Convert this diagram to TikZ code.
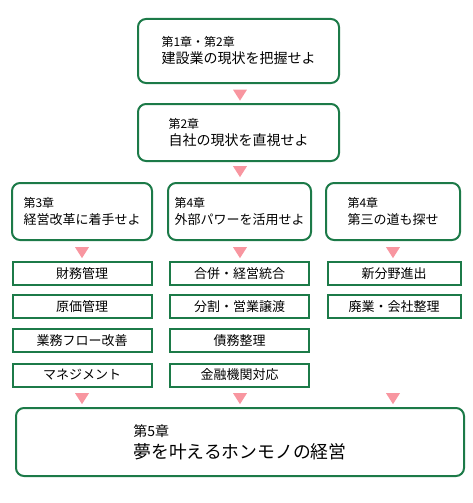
\documentclass[tikz,border=0pt]{standalone}
\usepackage{fontspec}
\setmainfont{Noto Sans CJK JP}
\usepackage{tikz}
\usetikzlibrary{shapes.geometric, positioning}
\definecolor{boxgreen}{RGB}{28,122,72}
\definecolor{markpink}{RGB}{248,150,160}
\newcommand{\chapno}[1]{{\fontsize{12}{14}\selectfont #1}}
\tikzstyle{chapter} = [rectangle, rounded corners=8pt,
draw=boxgreen,
line width=2pt,
inner sep=0pt,
align=left,
font=\fontsize{13}{17}\selectfont]
\tikzstyle{item} = [rectangle,
draw=boxgreen,
line width=2pt,
minimum height=23pt,
inner sep=0pt,
font=\fontsize{13}{15}\selectfont]
\tikzstyle{marker} = [isosceles triangle,
isosceles triangle stretches,
shape border rotate=-90,
fill=markpink,
minimum width=14pt,
minimum height=11pt,
inner sep=0pt]

\begin{document}
\begin{tikzpicture}[x=1pt, y=-1pt]
        \useasboundingbox (0,0) rectangle (472,503);

        % --- Capítulos ---
        \node (ch1) [chapter, minimum width=201pt, minimum height=64pt, font=\fontsize{14}{17}\selectfont] at (238.5,51) {\chapno{第1章・第2章}\\建設業の現状を把握せよ};
        \node (ch2) [chapter, minimum width=201pt, minimum height=57pt, font=\fontsize{14}{17}\selectfont] at (238.5,132.5) {\chapno{第2章}\\自社の現状を直視せよ};
        \node (ch3) [chapter, minimum width=140pt, minimum height=57pt] at (82,211.5) {\chapno{第3章}\\経営改革に着手せよ};
        \node (ch4) [chapter, minimum width=143pt, minimum height=57pt] at (239.5,211.5) {\chapno{第4章}\\外部パワーを活用せよ};
        \node (ch4b) [chapter, minimum width=134pt, minimum height=57pt] at (393,211.5) {\chapno{第4章}\\第三の道も探せ};
        \node (ch5) [chapter, minimum width=448pt, minimum height=68pt, font=\fontsize{17.8}{22}\selectfont] at (240,442) {{\fontsize{14}{16}\selectfont 第5章}\\夢を叶えるホンモノの経営};

        % --- Medidas ---
        \node (a1) [item, minimum width=139pt] at (82,273.5) {財務管理};
        \node (a2) [item, minimum width=139pt] at (82,306.5) {原価管理};
        \node (a3) [item, minimum width=139pt] at (82,340.5) {業務フロー改善};
        \node (a4) [item, minimum width=139pt] at (82,375) {マネジメント};
        \node (b1) [item, minimum width=139pt] at (239.5,273.5) {合併・経営統合};
        \node (b2) [item, minimum width=139pt] at (239.5,306.5) {分割・営業譲渡};
        \node (b3) [item, minimum width=139pt] at (239.5,340.5) {債務整理};
        \node (b4) [item, minimum width=139pt] at (239.5,375) {金融機関対応};
        \node (c1) [item, minimum width=133pt] at (394,273.5) {新分野進出};
        \node (c2) [item, minimum width=133pt] at (394,306.5) {廃業・会社整理};

        % --- Marcadores ---
        \node (m12) [marker] at (240,93.5) {};
        \node (m2) [marker] at (240,170) {};
        \node (m3) [marker] at (82,251) {};
        \node (m4) [marker] at (240,251) {};
        \node (m4b) [marker] at (393,251) {};
        \node (m5a) [marker] at (82,397) {};
        \node (m5b) [marker] at (240,397) {};
        \node (m5c) [marker] at (393,397) {};

    \end{tikzpicture}
\end{document}
